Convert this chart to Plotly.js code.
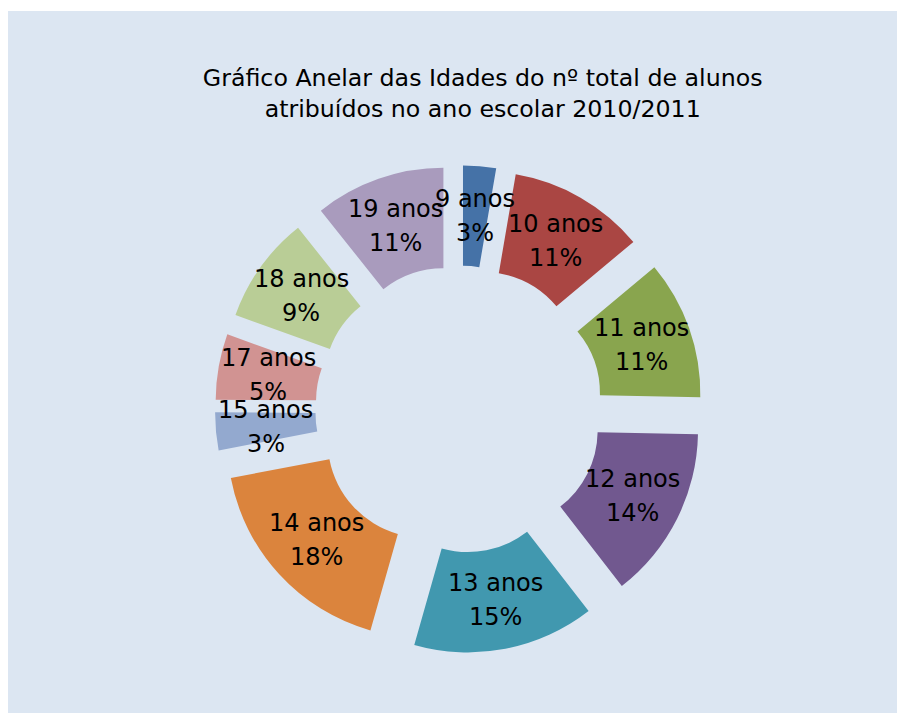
<!DOCTYPE html>
<html>
<head>
<meta charset="utf-8">
<script src="https://cdn.plot.ly/plotly-3.0.1.min.js"></script>
<style>
  html, body { margin: 0; padding: 0; background: #ffffff; }
  #chart { position: absolute; left: 8px; top: 11px; width: 889px; height: 702px; }
</style>
</head>
<body>
<div id="chart"></div>
<script>
// Data (share of students per age)
const categories = ["9 anos", "10 anos", "11 anos", "12 anos", "13 anos", "14 anos", "15 anos", "17 anos", "18 anos", "19 anos"];
const shares = [2.7, 11.2, 11.4, 14.2, 14.9, 17.6, 3.1, 5.4, 8.8, 10.7];
const sliceColors = ["#4572A7", "#AA4643", "#89A54E", "#71588F", "#4198AF", "#DB843D", "#93A9CF", "#D19392", "#B9CD96", "#A99BBD"];
const chartTitle = "Gráfico Anelar das Idades do nº total de alunos<br>atribuídos no ano escolar 2010/2011";

const FONT = "'DejaVu Sans', sans-serif";
const W = 889, H = 702;
const HOLE = 0.49, PULL = 0.24;
const DOMX = [0.2328, 0.7818], DOMY = [0.0848, 0.7806];

// Label positions follow the pie geometry (centre of each pulled ring segment),
// derived from the data so small slices keep an unscaled, centred label.
const total = shares.reduce((a, b) => a + b, 0);
const boxW = W * (DOMX[1] - DOMX[0]);
const boxH = H * (DOMY[1] - DOMY[0]);
const r = Math.min(boxW, boxH) / (2 + 2 * PULL);
const cx = W * (DOMX[0] + DOMX[1]) / 2;
const cy = H * (1 - DOMY[0]) - boxH / 2;
const rText = r * PULL + r * (1 + HOLE) / 2;

const annotations = [];
let cum = 0;
categories.forEach((cat, i) => {
  const a0 = cum / total * 2 * Math.PI;
  cum += shares[i];
  const a1 = cum / total * 2 * Math.PI;
  const mid = (a0 + a1) / 2;
  const px = cx + rText * Math.sin(mid);
  const py = cy - rText * Math.cos(mid);
  const pct = Math.round(shares[i] / total * 100) + "%";
  const common = {
    xref: "paper", yref: "paper",
    x: px / W, y: 1 - py / H,
    xanchor: "center", yanchor: "middle",
    showarrow: false,
    font: { family: FONT, size: 24, color: "#000000" }
  };
  annotations.push(Object.assign({}, common, { text: cat, yshift: 17 }));
  annotations.push(Object.assign({}, common, { text: pct, yshift: -17 }));
});

const trace = {
  type: "pie",
  labels: categories,
  values: shares,
  sort: false,
  direction: "clockwise",
  rotation: 0,
  hole: HOLE,
  pull: PULL,
  marker: { colors: sliceColors, line: { width: 0 } },
  textinfo: "none",
  domain: { x: DOMX, y: DOMY },
  showlegend: false,
  hoverinfo: "label+percent"
};

const layout = {
  width: W,
  height: H,
  margin: { l: 0, r: 0, t: 0, b: 0 },
  paper_bgcolor: "#DCE6F2",
  plot_bgcolor: "#DCE6F2",
  showlegend: false,
  annotations: annotations,
  title: {
    text: chartTitle,
    font: { family: FONT, size: 23.7, color: "#000000" },
    x: 0.534,
    xanchor: "center",
    xref: "container",
    y: 1 - 75 / 702,
    yanchor: "top",
    yref: "container"
  }
};

Plotly.newPlot("chart", [trace], layout, { displayModeBar: false, staticPlot: true });
</script>
</body>
</html>
